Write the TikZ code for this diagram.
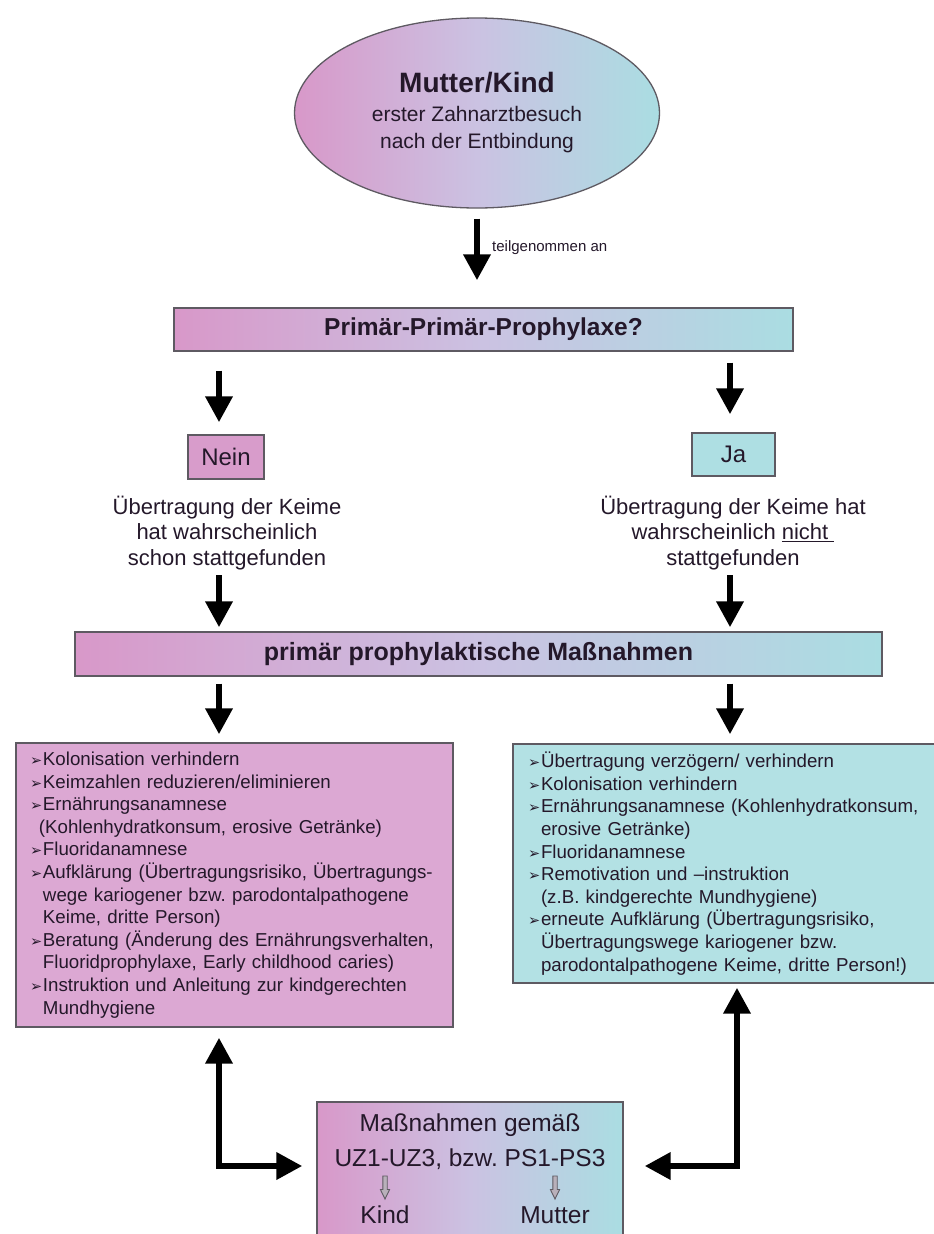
\documentclass[tikz,border=0pt]{standalone}
\usepackage{fontspec}
\setmainfont{Liberation Sans}
\newfontfamily\dejavu{DejaVu Sans}
\usetikzlibrary{shapes.geometric,arrows.meta}
\definecolor{pinkL}{HTML}{D898C9}
\definecolor{lavM}{HTML}{CBC2E2}
\definecolor{cyanR}{HTML}{AADDE2}
\definecolor{boxpink}{HTML}{DCA8D3}
\definecolor{boxcyan}{HTML}{B3E1E4}
\definecolor{neinpink}{HTML}{D89CCB}
\definecolor{jacyan}{HTML}{AEDFE3}
\definecolor{edge}{HTML}{5E5A62}
\definecolor{ink}{HTML}{24182A}
\definecolor{holfill}{HTML}{B8B0BA}
\frenchspacing
\newcommand\bul{\makebox[13pt][l]{\dejavu\fontsize{14.5}{14.5}\selectfont\char"27A2}}
\newcommand\ind{\hspace*{13pt}}
\begin{document}
\begin{tikzpicture}[x=1pt,y=-1pt,
  box/.style={draw=edge,line width=1.3pt,inner sep=0pt,text=ink},
  grad/.style={left color=pinkL,right color=cyanR,middle color=lavM},
  bigarrow/.style={line width=6.5pt,-{Triangle[width=26pt,length=26pt]}},
  dblarrow/.style={line width=6.5pt,{Triangle[width=26pt,length=26pt]}-{Triangle[width=26pt,length=26pt]}},
  plain/.style={text=ink,inner sep=0pt,align=center},
  hol/.style={draw=edge,line width=0.9pt,fill=holfill},
  listfont/.style={font=\frenchspacing\fontsize{18.7}{22.6}\selectfont}
]
\useasboundingbox (0,0) rectangle (934,1234);
\fill[white] (0,0) rectangle (934,1234);
\clip (0,0) rectangle (934,1234);

% coordinates for vertical arrow lines
\coordinate (aL) at (219,0);
\coordinate (aR) at (730,0);
\coordinate (aE) at (737,0);

% ellipse
\node[draw=edge,line width=1.3pt,ellipse,grad,minimum width=365pt,minimum height=190pt,
      inner sep=0pt,align=center,text=ink,font=\fontsize{21}{27}\selectfont] (mk) at (477,113)
  {{\fontsize{28}{28}\selectfont\bfseries Mutter/Kind}\\[2pt]erster Zahnarztbesuch\\nach der Entbindung};

\node[anchor=west,plain,font=\fontsize{15}{15}\selectfont] (tg) at (492,248) {teilgenommen an};

% first bar
\node[box,grad,minimum width=619pt,minimum height=43pt] (pp) at (483.5,329.5)
  {\fontsize{24.5}{24.5}\selectfont\bfseries Primär-Primär-Prophylaxe?};

% Nein / Ja
\node[box,fill=neinpink,minimum width=76pt,minimum height=44pt,font=\fontsize{24}{24}\selectfont] (nein) at (226,457) {Nein};
\node[box,fill=jacyan,minimum width=83pt,minimum height=43pt,font=\fontsize{24}{24}\selectfont] (ja) at (733.5,454.5) {Ja};

\node[plain,font=\fontsize{22}{25.5}\selectfont] (nl) at (227,533)
  {Übertragung der Keime\\hat wahrscheinlich\\schon stattgefunden};
\node[plain,font=\fontsize{22}{25.5}\selectfont] (nr) at (733,533)
  {Übertragung der Keime hat\\wahrscheinlich \underline{nicht\ }\\stattgefunden};

% second bar
\node[box,grad,minimum width=807pt,minimum height=44pt] (b2) at (478.5,654)
  {\fontsize{25}{25}\selectfont\bfseries primär prophylaktische Maßnahmen};

% list boxes
\node[box,fill=boxpink,minimum width=437pt,minimum height=284pt,align=left,text width=409pt,listfont] (lb) at (234.5,885)
  {\bul Kolonisation verhindern\\
   \bul Keimzahlen reduzieren/eliminieren\\
   \bul Ernährungsanamnese\\
   \hspace*{9pt}(Kohlenhydratkonsum, erosive Getränke)\\
   \bul Fluoridanamnese\\
   \bul Aufklärung (Übertragungsrisiko, Übertragungs-\\
   \ind wege kariogener bzw. parodontalpathogene\\
   \ind Keime, dritte Person)\\
   \bul Beratung (Änderung des Ernährungsverhalten,\\
   \ind Fluoridprophylaxe, Early childhood caries)\\
   \bul Instruktion und Anleitung zur kindgerechten\\
   \ind Mundhygiene};

\node[box,fill=boxcyan,minimum width=432pt,minimum height=239pt,align=left,text width=402pt,listfont] (rb) at (729,863.5)
  {\bul Übertragung verzögern/ verhindern\\
   \bul Kolonisation verhindern\\
   \bul Ernährungsanamnese (Kohlenhydratkonsum,\\
   \ind erosive Getränke)\\
   \bul Fluoridanamnese\\
   \bul Remotivation und –instruktion\\
   \ind (z.B. kindgerechte Mundhygiene)\\
   \bul erneute Aufklärung (Übertragungsrisiko,\\
   \ind Übertragungswege kariogener bzw.\\
   \ind parodontalpathogene Keime, dritte Person!)};

% bottom box
\node[box,grad,minimum width=306pt,minimum height=150pt] (bb) at (470,1177) {};
\node[plain,font=\fontsize{24.5}{35}\selectfont] (mz) at (470,1142) {Maßnahmen gemäß\\UZ1-UZ3, bzw. PS1-PS3};
\node[plain,font=\fontsize{24.5}{24.5}\selectfont] (kind) at (385,1215) {Kind};
\node[plain,font=\fontsize{24.5}{24.5}\selectfont] (mutter) at (555,1215) {Mutter};
\draw[hol] (382.8,1176) -- (387.2,1176) -- (387.2,1189.5) -- (389.6,1189.5) -- (385,1199) -- (380.4,1189.5) -- (382.8,1189.5) -- cycle;
\draw[hol] (552.8,1176) -- (557.2,1176) -- (557.2,1189.5) -- (559.6,1189.5) -- (555,1199) -- (550.4,1189.5) -- (552.8,1189.5) -- cycle;

% arrows
\draw[bigarrow,shorten <=10pt,shorten >=27pt] (mk.south) -- (pp.north -| mk.south);
\draw[bigarrow,shorten <=19pt,shorten >=12pt] (pp.south -| aL) -- (nein.north -| aL);
\draw[bigarrow,shorten <=11pt,shorten >=18pt] (pp.south -| aR) -- (ja.north -| aR);
\draw[bigarrow,shorten <=5pt,shorten >=4pt] (nl.south -| aL) -- (b2.north -| aL);
\draw[bigarrow,shorten <=5pt,shorten >=4pt] (nr.south -| aR) -- (b2.north -| aR);
\draw[bigarrow,shorten <=7pt,shorten >=8pt] (b2.south -| aL) -- (lb.north -| aL);
\draw[bigarrow,shorten <=7pt,shorten >=9pt] (b2.south -| aR) -- (rb.north -| aR);
\draw[dblarrow,shorten <=10pt,shorten >=14pt] (lb.south -| aL) |- ([yshift=11pt]bb.west);
\draw[dblarrow,shorten <=4pt,shorten >=21pt] (rb.south -| aE) |- ([yshift=11pt]bb.east);
\end{tikzpicture}
\end{document}
